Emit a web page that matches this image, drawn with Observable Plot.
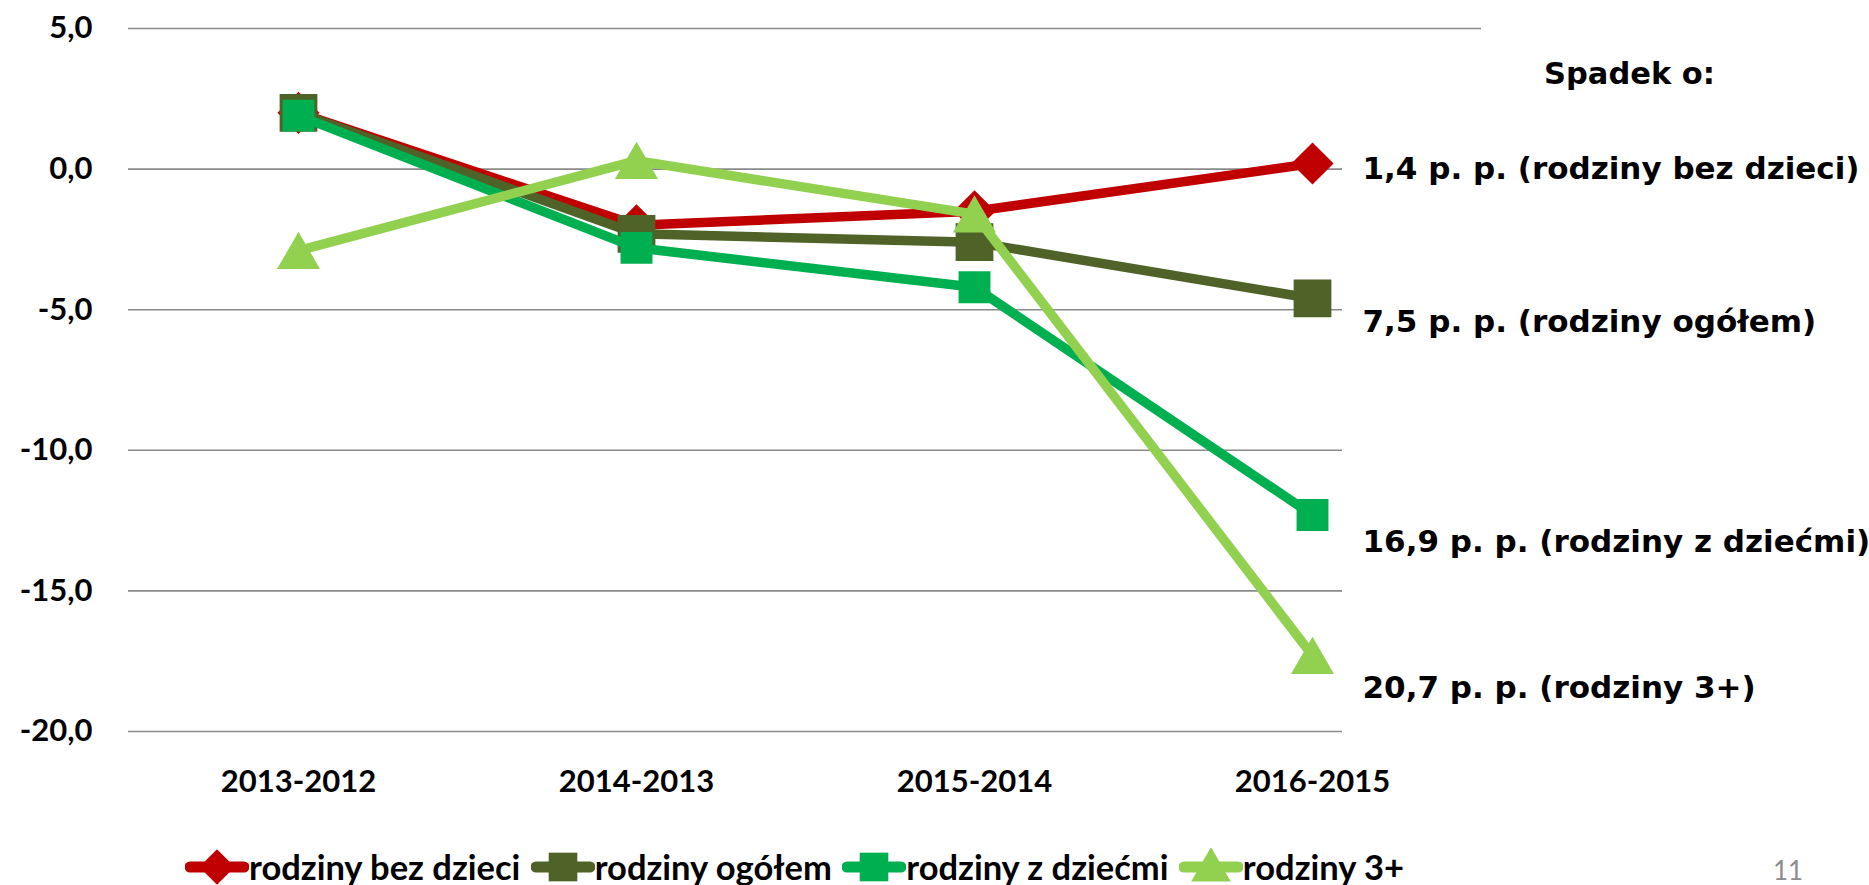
<!DOCTYPE html>
<html>
<head>
<meta charset="utf-8">
<script src="https://cdn.jsdelivr.net/npm/d3@7"></script>
<script src="https://cdn.jsdelivr.net/npm/@observablehq/plot@0.6"></script>
<style>
  html, body { margin: 0; padding: 0; background: #fff; }
  body { width: 1869px; height: 885px; overflow: hidden; position: relative; }
  #chart { position: absolute; left: 0; top: 0; }
  #legend {
    position: absolute; left: 118px; width: 1353px; top: 846px;
    display: flex; justify-content: center; align-items: center;
    font-family: Lato, "Open Sans", sans-serif; font-weight: 700; font-size: 34.5px;
    color: #000; white-space: nowrap;
  }
  .item { display: flex; align-items: center; margin: 0 5.2px; }
  .item svg { display: block; }
  #page { position: absolute; left: 1773px; top: 854px; font-family: Lato, sans-serif; font-size: 26px; color: #8c8c8c; }
</style>
</head>
<body>
<div id="chart"></div>
<div id="legend"></div>
<div id="page">11</div>
<script>
// ---- data ----
const categories = ["2013-2012", "2014-2013", "2015-2014", "2016-2015"];
const seriesNames = ["rodziny bez dzieci", "rodziny ogółem", "rodziny z dziećmi", "rodziny 3+"];
const bezDzieci = [2.0, -2.0, -1.5, 0.2];
const ogolem    = [2.0, -2.3, -2.6, -4.6];
const zDziecmi  = [1.9, -2.8, -4.2, -12.3];
const trzyPlus  = [-2.9, 0.3, -1.6, -17.3];
const seriesColors = ["#C00000", "#4F6228", "#00B050", "#92D050"];
const yTicks = [5, 0, -5, -10, -15, -20];
const annotationTexts = ["Spadek o:", "1,4 p. p. (rodziny bez dzieci)", "7,5 p. p. (rodziny ogółem)", "16,9 p. p. (rodziny z dziećmi)", "20,7 p. p. (rodziny 3+)"];
const annotationY = [3.37, 0.0, -5.45, -13.27, -18.46];

const seriesValues = [bezDzieci, ogolem, zDziecmi, trzyPlus];
const symbols = ["diamond2", "square", "square", "triangle"];
const radii = [19, 21.3, 18, 16];
const dys = [0, 0, 0, 6];
const d3Symbols = [d3.symbolDiamond2, d3.symbolSquare, d3.symbolSquare, d3.symbolTriangle];
const legendSizes = [800, 820, 820, 680];

const fmt = d => d.toFixed(1).replace(".", ",");

const marks = [
  Plot.ruleY([yTicks[0]], {stroke: "#8a8a8a", strokeWidth: 1.6}),
  Plot.ruleY(yTicks.slice(1), {stroke: "#8a8a8a", strokeWidth: 1.6, insetRight: 139}),
  Plot.axisY({ticks: yTicks, tickSize: 0, tickPadding: 36, tickFormat: fmt}),
  Plot.axisX({tickSize: 0, tickPadding: 38})
];

seriesNames.forEach((name, i) => {
  const rows = categories.map((c, j) => ({cat: c, value: seriesValues[i][j], series: name}));
  marks.push(Plot.line(rows, {x: "cat", y: "value", stroke: seriesColors[i], strokeWidth: 9.5, strokeLinejoin: "round"}));
  marks.push(Plot.dot(rows, {x: "cat", y: "value", fill: seriesColors[i], stroke: "none", symbol: symbols[i], r: radii[i], dy: dys[i]}));
});

const annRows = annotationTexts.map((t, i) => ({t, y: annotationY[i], cat: categories[categories.length - 1]}));
marks.push(Plot.text(annRows.slice(0, 1), {x: "cat", y: "y", text: "t", dx: 317, textAnchor: "middle",
  fontFamily: "'DejaVu Sans', Verdana, sans-serif", fontWeight: 700, fontSize: 30.5, fill: "#000"}));
marks.push(Plot.text(annRows.slice(1), {x: "cat", y: "y", text: "t", dx: 50, textAnchor: "start",
  fontFamily: "'DejaVu Sans', Verdana, sans-serif", fontWeight: 700, fontSize: 31, fill: "#000"}));

const plot = Plot.plot({
  width: 1869,
  height: 840,
  marginLeft: 128,
  marginRight: 388,
  marginTop: 28,
  marginBottom: 109,
  x: {type: "point", domain: categories, padding: 0.5, label: null},
  y: {domain: [-20, 5], label: null},
  style: {fontFamily: "Lato, 'Open Sans', sans-serif", fontSize: "31px", fontWeight: 700, color: "#000", background: "#fff", overflow: "visible"},
  marks
});
document.getElementById("chart").appendChild(plot);

// ---- legend ----
const legend = d3.select("#legend");
seriesNames.forEach((name, i) => {
  const item = legend.append("div").attr("class", "item");
  const svg = item.append("svg").attr("width", 64).attr("height", 38);
  svg.append("line").attr("x1", 5).attr("x2", 59).attr("y1", 19).attr("y2", 19)
    .attr("stroke", seriesColors[i]).attr("stroke-width", 11).attr("stroke-linecap", "round");
  svg.append("path").attr("d", d3.symbol(d3Symbols[i], legendSizes[i])())
    .attr("transform", `translate(32,${i === 3 ? 22 : 19})`).attr("fill", seriesColors[i]);
  item.append("span").text(name);
});
</script>
</body>
</html>
